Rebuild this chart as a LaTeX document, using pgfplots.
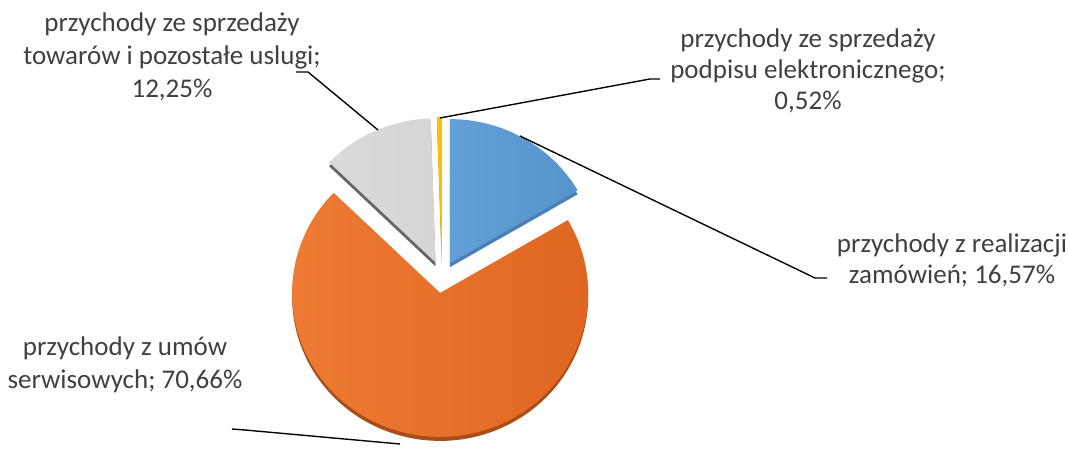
\documentclass[border=0pt]{standalone}
\usepackage{fontspec}
\setmainfont{Carlito}
\usepackage{pgfplots}
\pgfplotsset{compat=1.18}
\definecolor{cblue}{HTML}{5B9BD5}
\definecolor{cblueD}{HTML}{4A80B8}
\definecolor{corangeL}{HTML}{EF7B34}
\definecolor{corangeR}{HTML}{DF6520}
\definecolor{corangeD}{HTML}{A84E18}
\definecolor{cgray}{HTML}{D6D6D6}
\definecolor{cgrayD}{HTML}{666666}
\definecolor{cyellow}{HTML}{FFC000}
\definecolor{cyellowD}{HTML}{C08F00}
\definecolor{ctext}{HTML}{404040}

% shares of the four slices (%), clockwise from 12 o'clock
\def\vBlue{16.57}
\def\vOrange{70.66}
\def\vGray{12.25}
\def\vYellow{0.52}

\pgfmathsetmacro\aA{90}
\pgfmathsetmacro\aB{\aA-3.6*\vBlue}
\pgfmathsetmacro\aC{\aB-3.6*\vOrange}
\pgfmathsetmacro\aD{\aC-3.6*\vGray}
\pgfmathsetmacro\aE{\aD-3.6*\vYellow}

% #1 start angle, #2 end angle, #3 top fill options, #4 side colour
\newcommand\pieside[4]{%
  \pgfmathsetmacro\pmid{(#1+#2)/2}%
  \pgfmathsetmacro\pcx{442+16*cos(\pmid)}%
  \pgfmathsetmacro\pcy{169+16*sin(\pmid)-4}%
  \edef\temp{\noexpand\fill[#4] (axis cs:\pcx,\pcy) -- ++(#1:59.2pt and 57.6pt)
    arc[start angle=#1, end angle=#2, x radius=59.2pt, y radius=57.6pt] -- cycle;}%
  \temp}
\newcommand\pietop[4]{%
  \pgfmathsetmacro\pmid{(#1+#2)/2}%
  \pgfmathsetmacro\pcx{442+16*cos(\pmid)}%
  \pgfmathsetmacro\pcy{169+16*sin(\pmid)}%
  \edef\temp{\noexpand\shade[#3] (axis cs:\pcx,\pcy) -- ++(#1:59.2pt and 57.6pt)
    arc[start angle=#1, end angle=#2, x radius=59.2pt, y radius=57.6pt] -- cycle;}%
  \temp}

\begin{document}
\begin{tikzpicture}
\begin{axis}[scale only axis, width=427.6pt, height=178.4pt,
  xmin=0, xmax=1069, ymin=0, ymax=446, hide axis, clip=false]
\path (axis cs:0,0) rectangle (axis cs:1069,446);
% sides
\pieside{\aA}{\aB}{}{cblueD}
\pieside{\aB}{\aC}{}{corangeD}
\pieside{\aC}{\aD}{}{cgrayD}
\pieside{\aD}{\aE}{}{cyellowD}
% tops
\pietop{\aA}{\aB}{left color=cblue!95!white, right color=cblue!95!black}{}
\pietop{\aB}{\aC}{left color=corangeL, right color=corangeR}{}
\pietop{\aC}{\aD}{left color=cgray!90!white, right color=cgray}{}
\pietop{\aD}{\aE}{left color=cyellow, right color=cyellow}{}
% leader lines
\draw[black, line width=0.55pt] (axis cs:296,374) -- (axis cs:308,374) -- (axis cs:378,316);
\draw[black, line width=0.55pt] (axis cs:440,328) -- (axis cs:650,367) -- (axis cs:660,367);
\draw[black, line width=0.55pt] (axis cs:520,310) -- (axis cs:815,168) -- (axis cs:827,168);
\draw[black, line width=0.55pt] (axis cs:232,17) -- (axis cs:245,16) -- (axis cs:400,2);
% labels
\begin{scope}[every node/.style={anchor=base, inner sep=0pt, text=ctext, font=\fontsize{10.8pt}{13pt}\selectfont}]
\node at (axis cs:172,414) {przychody ze sprzedaży};
\node at (axis cs:172,381) {towarów i pozostałe uslugi;};
\node at (axis cs:172,348) {12,25\%};
\node at (axis cs:808,398) {przychody ze sprzedaży};
\node at (axis cs:808,367) {podpisu elektronicznego;};
\node at (axis cs:808,336) {0,52\%};
\node at (axis cs:952,193) {przychody z realizacji};
\node at (axis cs:952,162) {zamówień; 16,57\%};
\node at (axis cs:125,90) {przychody z umów};
\node at (axis cs:125,58) {serwisowych; 70,66\%};
\end{scope}
\end{axis}
\end{tikzpicture}
\end{document}
